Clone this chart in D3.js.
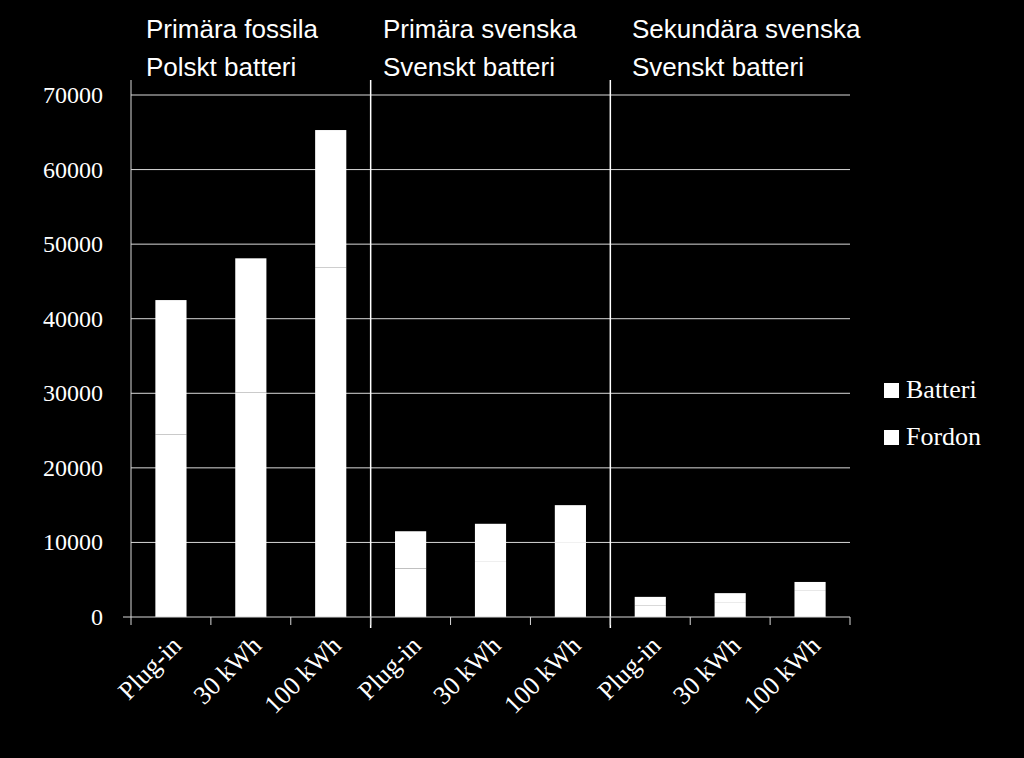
<!DOCTYPE html>
<html><head><meta charset="utf-8">
<script src="https://cdn.jsdelivr.net/npm/d3@7"></script>
<style>body{margin:0;background:#000}</style>
</head><body>
<svg id="chart" width="1024" height="758"></svg>
<script>
// data
const categories = ['Plug-in', '30 kWh', '100 kWh', 'Plug-in', '30 kWh', '100 kWh', 'Plug-in', '30 kWh', '100 kWh']
const groups = [['Primära fossila', 'Polskt batteri'], ['Primära svenska', 'Svenskt batteri'], ['Sekundära svenska', 'Svenskt batteri']]
const batteri = [24500, 30100, 46900, 6500, 7500, 10000, 1500, 2000, 3500]
const fordon = [18000, 18000, 18400, 5000, 5000, 5000, 1200, 1200, 1200]
const yTicks = [0, 10000, 20000, 30000, 40000, 50000, 60000, 70000]
const series = ['Batteri', 'Fordon']

const svg = d3.select('#chart')
const mLeft = 131, mRight = 850, mTop = 95, mBottom = 617

const x = d3.scaleBand().domain(d3.range(categories.length)).range([mLeft, mRight]).paddingInner(0.61).paddingOuter(0.305)
const step = (mRight - mLeft) / categories.length
const y = d3.scaleLinear().domain([0, 70000]).range([mBottom, mTop])

// grid
svg.append('g').selectAll('line').data(yTicks.slice(1)).join('line')
  .attr('x1', mLeft).attr('x2', mRight).attr('y1', d => y(d)).attr('y2', d => y(d))
  .attr('stroke', '#d9d9d9').attr('stroke-width', 1)

// stacked bars, both series white
const rows = categories.map((c, i) => ({i, Batteri: batteri[i], Fordon: fordon[i]}))
const stacked = d3.stack().keys(series)(rows)
svg.append('g').selectAll('g').data(stacked).join('g').attr('fill', '#fff')
  .selectAll('rect').data(d => d).join('rect')
  .attr('x', d => x(d.data.i)).attr('width', x.bandwidth())
  .attr('y', d => y(d[1])).attr('height', d => y(d[0]) - y(d[1]))

// group separators
svg.append('g').selectAll('line').data([3, 6]).join('line')
  .attr('x1', d => mLeft + d * step).attr('x2', d => mLeft + d * step)
  .attr('y1', 80).attr('y2', 628).attr('stroke', '#fff').attr('stroke-width', 1.5)

// y axis
svg.append('line').attr('x1', mLeft).attr('x2', mLeft).attr('y1', 80).attr('y2', mBottom).attr('stroke', '#d9d9d9')
svg.append('g').selectAll('text').data(yTicks).join('text')
  .attr('x', 103).attr('y', d => y(d) + 8).attr('text-anchor', 'end')
  .attr('fill', '#fff').attr('font-family', 'Liberation Serif, DejaVu Serif, serif').attr('font-size', 24)
  .text(d => d)

// x axis
svg.append('line').attr('x1', mLeft - 8).attr('x2', mRight).attr('y1', mBottom).attr('y2', mBottom).attr('stroke', '#d9d9d9')
svg.append('g').selectAll('line').data(d3.range(categories.length + 1)).join('line')
  .attr('x1', d => mLeft + d * step).attr('x2', d => mLeft + d * step)
  .attr('y1', mBottom).attr('y2', mBottom + 8).attr('stroke', '#d9d9d9')
svg.append('g').selectAll('text').data(categories).join('text')
  .attr('transform', (d, i) => `translate(${x(i) + x.bandwidth() / 2 + 12},${mBottom + 30}) rotate(-45)`)
  .attr('text-anchor', 'end').attr('fill', '#fff')
  .attr('font-family', 'Liberation Serif, DejaVu Serif, serif').attr('font-size', 26)
  .text(d => d)

// group titles
const titleX = [146, 383, 632]
groups.forEach((g, gi) => {
  svg.append('text').attr('y', 38)
    .attr('fill', '#fff').attr('font-family', 'Liberation Sans, Arial, sans-serif').attr('font-size', 26)
    .selectAll('tspan').data(g).join('tspan')
    .attr('x', titleX[gi]).attr('dy', (d, i) => i ? 38 : 0).text(d => d)
})

// legend
const lg = svg.append('g').selectAll('g').data(series).join('g')
  .attr('transform', (d, i) => `translate(884,${383 + i * 47})`)
lg.append('rect').attr('width', 15).attr('height', 15).attr('fill', '#fff')
lg.append('text').attr('x', 22).attr('y', 15).attr('fill', '#fff')
  .attr('font-family', 'Liberation Serif, DejaVu Serif, serif').attr('font-size', 26).text(d => d)
</script>
</body></html>
